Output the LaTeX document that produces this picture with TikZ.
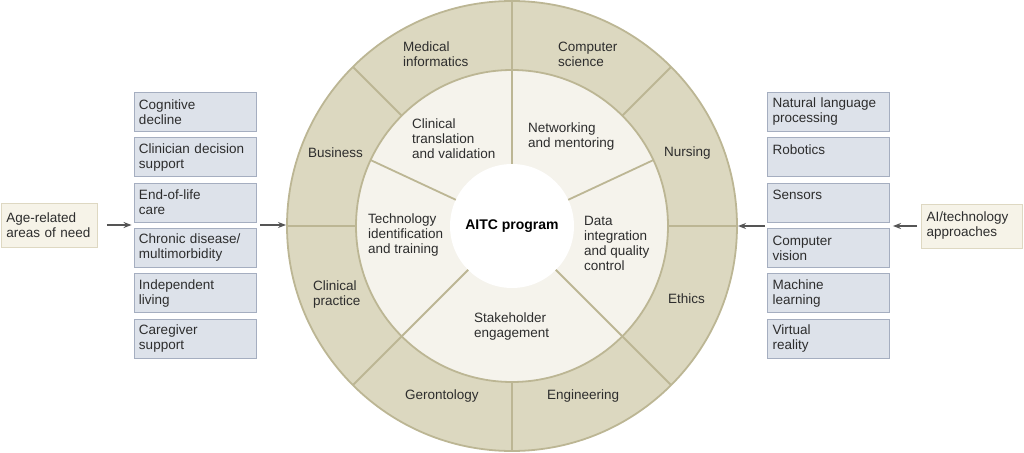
\documentclass[tikz,border=0pt]{standalone}
\usepackage{fontspec}
\setmainfont{Liberation Sans}
\usetikzlibrary{arrows.meta, positioning, calc}
\definecolor{ringtan}{RGB}{220, 216, 192}
\definecolor{ringline}{RGB}{188, 182, 148}
\definecolor{innercream}{RGB}{245, 243, 236}
\definecolor{boxblue}{RGB}{221, 226, 234}
\definecolor{boxline}{RGB}{165, 174, 192}
\definecolor{srccream}{RGB}{246, 243, 232}
\definecolor{srcline}{RGB}{222, 216, 194}
\definecolor{textgray}{RGB}{45, 45, 45}
\definecolor{arrowgray}{RGB}{85, 85, 85}

\tikzset{
  lbl/.style={font=\fontsize{13.5}{15}\selectfont, text=textgray, align=left, inner sep=0pt, anchor=west},
  areabox/.style={draw=boxline, fill=boxblue, line width=0.9pt, minimum width=122pt, minimum height=39pt,
    text width=112pt, inner xsep=5pt, inner ysep=0pt, align=left, font=\fontsize{13.5}{15}\selectfont, text=textgray},
  srcbox/.style={draw=srcline, fill=srccream, line width=0.9pt, minimum height=44pt, inner xsep=5pt,
    align=left, font=\fontsize{13.5}{15}\selectfont, text=textgray},
  ringdisc/.style={circle, draw=ringline, line width=1.8pt, inner sep=0pt, outer sep=0pt},
  divider/.style={draw=ringline, line width=1.8pt},
  arr/.style={draw=arrowgray, line width=1.6pt, -{Stealth[length=8pt, width=6pt]}}
}

\begin{document}
\begin{tikzpicture}[x=1pt, y=1pt]
  \useasboundingbox (-512, -226) rectangle (512, 226);

  % Rings
  \node[ringdisc, fill=ringtan, minimum size=450pt] (ring) at (0, 0) {};
  \node[ringdisc, fill=innercream, minimum size=312pt] (mid) at (0, 0) {};
  \node[circle, fill=white, minimum size=124pt, inner sep=0pt, outer sep=0pt,
    font=\fontsize{14}{16}\selectfont\bfseries, text=black] (hub) at (0, 0) {AITC program};

  % Dividers
  \foreach \a in {0, 45, ..., 315}
    \draw[divider] (mid.\a) -- (ring.\a);
  \foreach \a in {90, 25, 315, 225, 155}
    \draw[divider] (hub.\a) -- (mid.\a);

  % Disciplines (outer ring)
  \node[lbl] (medinf) at (-109, 171.5) {Medical\\informatics};
  \node[lbl] (compsci) at (46, 171.5) {Computer\\science};
  \node[lbl] (nursing) at (152, 73) {Nursing};
  \node[lbl] (ethics) at (156, -73) {Ethics};
  \node[lbl] (engin) at (35, -170) {Engineering};
  \node[lbl] (geront) at (-107, -170) {Gerontology};
  \node[lbl] (clinprac) at (-199, -68.5) {Clinical\\practice};
  \node[lbl] (business) at (-204, 73) {Business};

  % Program cores (inner ring)
  \node[lbl] (transl) at (-100, 87) {Clinical\\translation\\and validation};
  \node[lbl] (network) at (16, 89.5) {Networking\\and mentoring};
  \node[lbl] (dataint) at (72, -17) {Data\\integration\\and quality\\control};
  \node[lbl] (techid) at (-144, -9) {Technology\\identification\\and training};
  \node[lbl] (stake) at (-38, -100.5) {Stakeholder\\engagement};

  % Areas of need
  \node[srcbox, text width=86pt, anchor=west] (age) at (-511, 1) {Age-related\\areas of need};
  \foreach \txt [count=\i] in {{Cognitive\\decline}, {Clinician decision\\support}, {End-of-life\\care},
      {Chronic disease/\\multimorbidity}, {Independent\\living}, {Caregiver\\support}}
    \node[areabox] (n\i) at (-317, {114 - 45.3*(\i - 1)}) {\txt};

  % Technology approaches
  \node[srcbox, text width=91pt, anchor=east] (ai) at (511, 0) {AI/technology\\approaches};
  \foreach \txt [count=\i] in {{Natural language\\processing}, {Robotics\\\mbox{}}, {Sensors\\\mbox{}},
      {Computer\\vision}, {Machine\\learning}, {Virtual\\reality}}
    \node[areabox] (t\i) at (316.5, {114 - 45.3*(\i - 1)}) {\txt};

  % Arrows
  \draw[arr, shorten <=9pt, shorten >=2pt] (age.east) -- (age.east -| n3.west);
  \draw[arr, shorten <=4pt, shorten >=1pt] (age.east -| n3.east) -- (age.east -| ring.west);
  \draw[arr, shorten <=4pt, shorten >=3pt] (ai.west) -- (ai.west -| t3.east);
  \draw[arr, shorten <=2pt, shorten >=1pt] (ai.west -| t3.west) -- (ai.west -| ring.east);
\end{tikzpicture}
\end{document}
